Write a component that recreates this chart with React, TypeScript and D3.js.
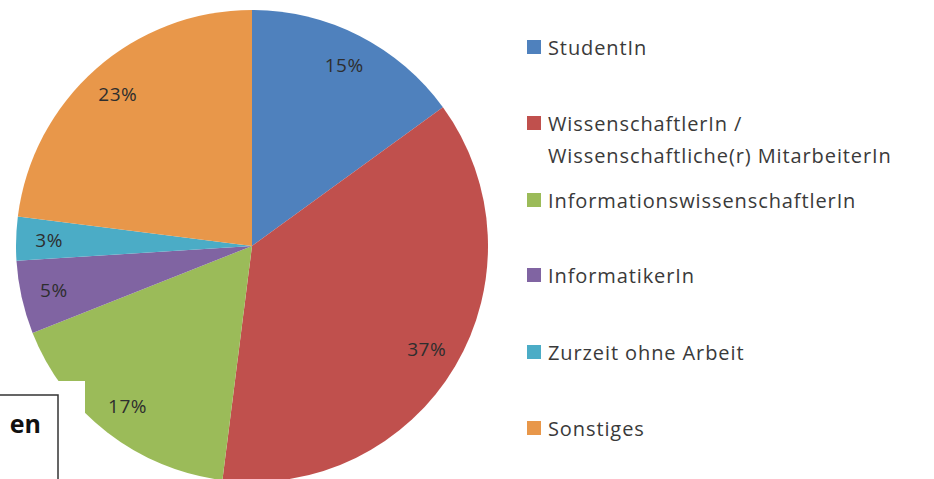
import { useMemo } from "react";
import { pie, arc, scaleOrdinal } from "d3";

const categories = [
  "StudentIn",
  "WissenschaftlerIn / Wissenschaftliche(r) MitarbeiterIn",
  "InformationswissenschaftlerIn",
  "InformatikerIn",
  "Zurzeit ohne Arbeit",
  "Sonstiges",
];
const shares = [15, 37, 17, 5, 3, 23];
const legendLines = [
  ["StudentIn"],
  ["WissenschaftlerIn /", "Wissenschaftliche(r) MitarbeiterIn"],
  ["InformationswissenschaftlerIn"],
  ["InformatikerIn"],
  ["Zurzeit ohne Arbeit"],
  ["Sonstiges"],
];
const palette = ["#4F81BD", "#C0504D", "#9BBB59", "#8064A2", "#4BACC6", "#E8974A"];

const width = 934;
const height = 479;
const cx = 252;
const cy = 246;
const radius = 236;
const labelRadius = 203;
const font = "'Open Sans', sans-serif";

// legend row positions (top of each entry)
const legendX = 527;
const legendTops = [40, 116, 193, 268, 345, 421];

export default function App() {
  const color = useMemo(() => scaleOrdinal<string, string>().domain(categories).range(palette), []);
  const slices = useMemo(
    () =>
      pie<number>()
        .sort(null)
        .value((d) => d)(shares),
    []
  );
  const arcGen = arc<any>().innerRadius(0).outerRadius(radius);
  const labelArc = arc<any>().innerRadius(labelRadius).outerRadius(labelRadius);

  return (
    <svg
      width={width}
      height={height}
      style={{ position: "absolute", left: 0, top: 0, background: "#fff" }}
    >
      <g transform={`translate(${cx},${cy})`}>
        {slices.map((s, i) => (
          <path key={categories[i]} d={arcGen(s) as string} fill={color(categories[i])} />
        ))}
        {slices.map((s, i) => {
          const [x, y] = labelArc.centroid(s);
          return (
            <text
              key={"l" + i}
              x={x}
              y={y}
              textAnchor="middle"
              dominantBaseline="central"
              fontFamily={font}
              fontSize={19}
              letterSpacing={0.5}
              fill="#2e2e2e"
            >
              {shares[i]}%
            </text>
          );
        })}
      </g>

      <g>
        {legendLines.map((lines, i) => (
          <g key={"leg" + i} transform={`translate(${legendX},${legendTops[i]})`}>
            <rect width={14} height={14} fill={color(categories[i])} />
            {lines.map((ln, j) => (
              <text
                key={j}
                x={21}
                y={7 + j * 32}
                dominantBaseline="central"
                fontFamily={font}
                fontSize={20}
                letterSpacing={0.9}
                fill="#3a3a3a"
              >
                {ln}
              </text>
            ))}
          </g>
        ))}
      </g>

      {/* overlapping cut-off text box from the page */}
      <rect x={0} y={381} width={85} height={100} fill="#fff" />
      <rect x={-2} y={395} width={60} height={90} fill="#fff" stroke="#333" strokeWidth={1.5} />
      <text
        x={41}
        y={433}
        textAnchor="end"
        fontFamily={font}
        fontWeight="bold"
        fontSize={25}
        fill="#111"
      >
        en
      </text>
    </svg>
  );
}
